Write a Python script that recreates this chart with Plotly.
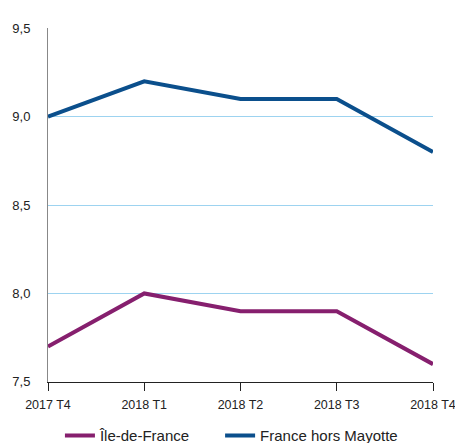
import plotly.graph_objects as go

categories = ["2017 T4", "2018 T1", "2018 T2", "2018 T3", "2018 T4"]
idf_values = [7.7, 8.0, 7.9, 7.9, 7.6]
france_values = [9.0, 9.2, 9.1, 9.1, 8.8]
y_ticks = [7.5, 8.0, 8.5, 9.0, 9.5]
y_tick_labels = ["7,5", "8,0", "8,5", "9,0", "9,5"]

FONT = "Liberation Sans, Arial, sans-serif"

fig = go.Figure()
fig.add_trace(go.Scatter(x=categories, y=idf_values, mode="lines", name="Île-de-France",
                         line=dict(color="#861F6E", width=4), cliponaxis=False,
                         legend="legend"))
fig.add_trace(go.Scatter(x=categories, y=france_values, mode="lines", name="France hors Mayotte",
                         line=dict(color="#0B4F8C", width=4), cliponaxis=False,
                         legend="legend2"))

fig.update_layout(
    width=455, height=443,
    margin=dict(l=48, r=22, t=28, b=61, autoexpand=False),
    plot_bgcolor="white", paper_bgcolor="white",
    font=dict(family=FONT, size=13, color="#222"),
    showlegend=True,
    legend=dict(orientation="h", x=0.031, xanchor="left", y=-0.152, yanchor="middle",
                font=dict(size=15)),
    legend2=dict(orientation="h", x=0.447, xanchor="left", y=-0.152, yanchor="middle",
                 font=dict(size=15)),
    xaxis=dict(type="category", range=[0, 4], showgrid=False, showline=True,
               linecolor="#222", linewidth=1.2, ticks="outside", ticklen=8,
               tickcolor="#222", tickfont=dict(size=12.5), automargin=False,
               ticklabelstandoff=3),
    yaxis=dict(range=[7.499, 9.502], tickvals=y_ticks, ticktext=y_tick_labels,
               showgrid=True, gridcolor="#9DD3F0", gridwidth=1,
               showline=True, linecolor="#888", linewidth=1, ticks="",
               ticklabelstandoff=14, tickfont=dict(size=13), zeroline=False,
               automargin=False),
)

fig.write_html(
    "out.html",
    config={"displayModeBar": False},
    post_script="document.body.style.margin='0px';"
                "document.body.style.overflow='hidden';"
                "document.documentElement.style.overflow='hidden';",
)
